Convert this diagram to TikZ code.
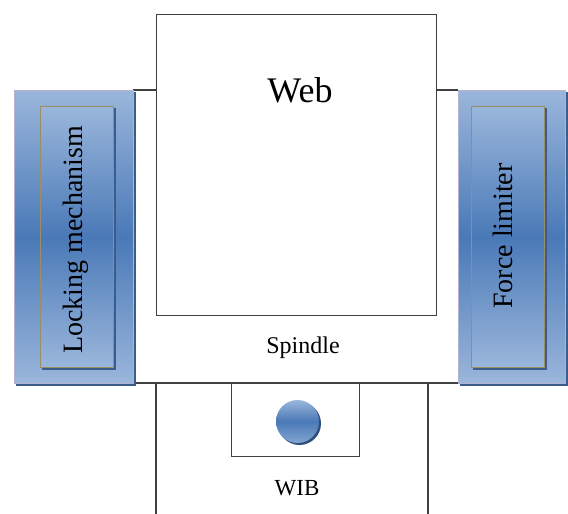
\documentclass[tikz,border=0pt]{standalone}
\usepackage{fontspec}
\setmainfont{Liberation Serif}
\begin{document}
\begin{tikzpicture}[x=1pt,y=-1pt,
  outline/.style={draw=black!75, line width=1.1pt},
  bluebar/.style={draw=blue!40!black!30!white, line width=0.8pt,
    top color=barlight, bottom color=barlight, middle color=bardark},
  barshadow/.style={fill=barshade, draw=none},
  innerframe/.style={draw=olivebrd, line width=0.9pt},
  label/.style={inner sep=0pt, text=black}]
\definecolor{barlight}{HTML}{9AB6DB}
\definecolor{bardark}{HTML}{4A79B7}
\definecolor{barshade}{HTML}{3A5D8E}
\definecolor{olivebrd}{HTML}{9A8F64}
\definecolor{ballshade}{HTML}{2E4F7E}
\useasboundingbox (0,0) rectangle (568,514);

% spindle housing: top and bottom rails
\coordinate (sptl) at (133,90);
\coordinate (sptr) at (458,90);
\coordinate (spbl) at (133,383);
\coordinate (spbr) at (458,383);
\draw[outline] (sptl) -- (sptr);
\draw[outline] (spbl) -- (spbr);

% web drum
\node[outline, fill=white, minimum width=280pt, minimum height=301pt,
  anchor=north west, inner sep=0pt] (web) at (156,14) {};
\node[label, font=\fontsize{36}{40}\selectfont] (webtxt) at (300,90) {Web};

% spindle label
\node[label, font=\fontsize{24}{28}\selectfont] (spindle) at (303,348) {Spindle};

% WIB housing below the spindle
\coordinate (wl) at (156,383);
\coordinate (wlb) at (156,514);
\coordinate (wr) at (428,383);
\coordinate (wrb) at (428,514);
\draw[outline] (wl) -- (wlb);
\draw[outline] (wr) -- (wrb);
\node[outline, minimum width=128pt, minimum height=73pt,
  anchor=north west, inner sep=0pt] (wibbox) at (231,383) {};
\node[label, font=\fontsize{23}{27}\selectfont] (wib) at (297,488) {WIB};

% ball
\fill[ballshade] (299.5,423.5) circle (21.5pt);
\shade[top color=barlight, bottom color=barlight!70!bardark, middle color=bardark]
  (297.5,421.5) circle (21.5pt);
\node[circle, minimum size=43pt, inner sep=0pt] (ball) at (297.5,421.5) {};

% locking mechanism bar
\fill[barshade] (16,92) rectangle (136,386);
\node[bluebar, minimum width=119pt, minimum height=293pt,
  anchor=north west, inner sep=0pt] (lockbar) at (14,90) {};
\fill[barshade] (42,108) rectangle (116,370);
\node[innerframe, top color=barlight, bottom color=barlight, middle color=bardark,
  minimum width=73pt, minimum height=261pt,
  anchor=north west, inner sep=0pt] (lockframe) at (40,106) {};
\node[label, rotate=90, font=\fontsize{28}{32}\selectfont] (locktxt) at (76,240) {Locking mechanism};

% force limiter bar
\fill[barshade] (460,92) rectangle (568,386);
\node[bluebar, minimum width=107pt, minimum height=293pt,
  anchor=north west, inner sep=0pt] (forcebar) at (458,90) {};
\fill[barshade] (473,108) rectangle (547,370);
\node[innerframe, top color=barlight, bottom color=barlight, middle color=bardark,
  minimum width=73pt, minimum height=261pt,
  anchor=north west, inner sep=0pt] (forceframe) at (471,106) {};
\node[label, rotate=90, font=\fontsize{28}{32}\selectfont] (forcetxt) at (503,236) {Force limiter};
\end{tikzpicture}
\end{document}
